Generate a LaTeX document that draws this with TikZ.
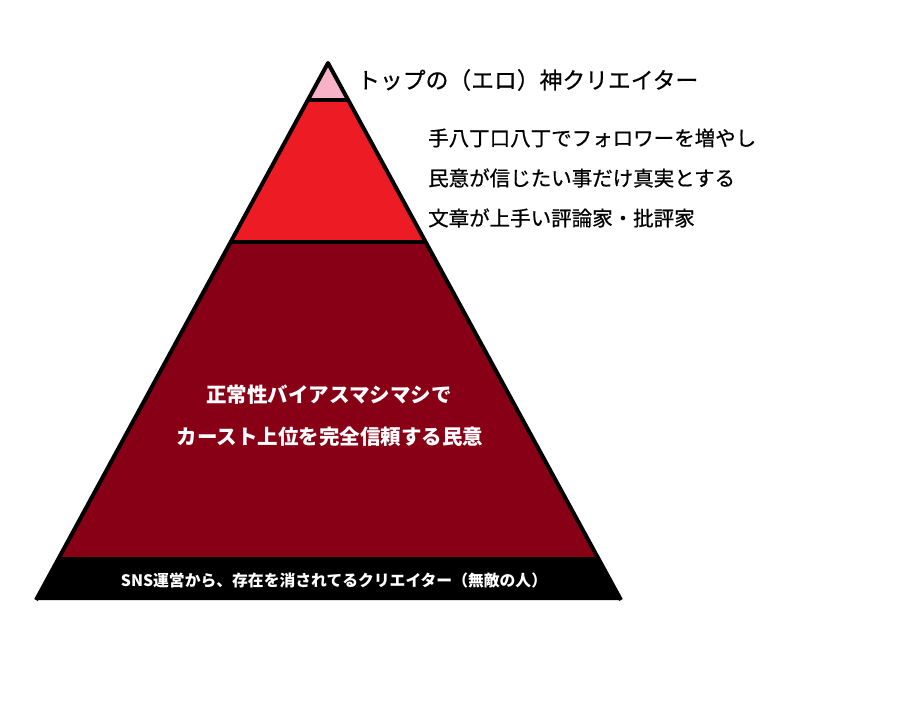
\documentclass[tikz,border=0pt]{standalone}
\usepackage{fontspec}
\newfontfamily\jp{Noto Sans CJK JP}
\newfontfamily\jpm{Noto Sans CJK JP}[FakeBold=0.6]
\definecolor{pinkL}{HTML}{F7B2C8}
\definecolor{redL}{HTML}{ED1C24}
\definecolor{darkR}{HTML}{880015}
\begin{document}
\begin{tikzpicture}[x=1pt,y=-1pt,
  outline/.style={line width=4pt, line join=round, black},
  lbl/.style={font=\jpm\fontsize{20.5}{24}\selectfont, anchor=west, inner sep=0pt},
  wlbl/.style={font=\jp\bfseries\fontsize{20.5}{24}\selectfont, text=white, inner sep=0pt},
  blbl/.style={font=\jp\bfseries\fontsize{15.8}{19}\selectfont, text=white, inner sep=0pt}]
\useasboundingbox (0,0) rectangle (918,702);
\coordinate (apex) at (328,63);
\coordinate (p1l) at (308,100); \coordinate (p1r) at (348,100);
\coordinate (p2l) at (231,242); \coordinate (p2r) at (425,242);
\coordinate (p3l) at (59,557);  \coordinate (p3r) at (597,557);
\coordinate (bl) at (36,600);   \coordinate (br) at (621,600);
% layers
\fill[pinkL] (apex) -- (p1r) -- (p1l) -- cycle;
\fill[redL] (p1l) -- (p1r) -- (p2r) -- (p2l) -- cycle;
\fill[darkR] (p2l) -- (p2r) -- (p3r) -- (p3l) -- cycle;
\fill[black, rounded corners=2pt] (p3l) -- (p3r) -- (br) -- (bl) -- cycle;
% outline
\draw[outline] (bl) -- (apex) -- (br);
\draw[outline] (p1l) -- (p1r);
\draw[outline] (p2l) -- (p2r);
% labels
\node[lbl, font=\jpm\fontsize{22.8}{26}\selectfont] (top) at (357,80) {トップの（エロ）神クリエイター};
\node[lbl] (r1) at (428,138) {手八丁口八丁でフォロワーを増やし};
\node[lbl] (r2) at (428,178) {民意が信じたい事だけ真実とする};
\node[lbl] (r3) at (428,218) {文章が上手い評論家・批評家};
\node[wlbl] (m1) at (329,395) {正常性バイアスマシマシで};
\node[wlbl] (m2) at (330,437) {カースト上位を完全信頼する民意};
\node[blbl] (b1) at (334,580) {SNS運営から、存在を消されてるクリエイター（無敵の人）};
\end{tikzpicture}
\end{document}
